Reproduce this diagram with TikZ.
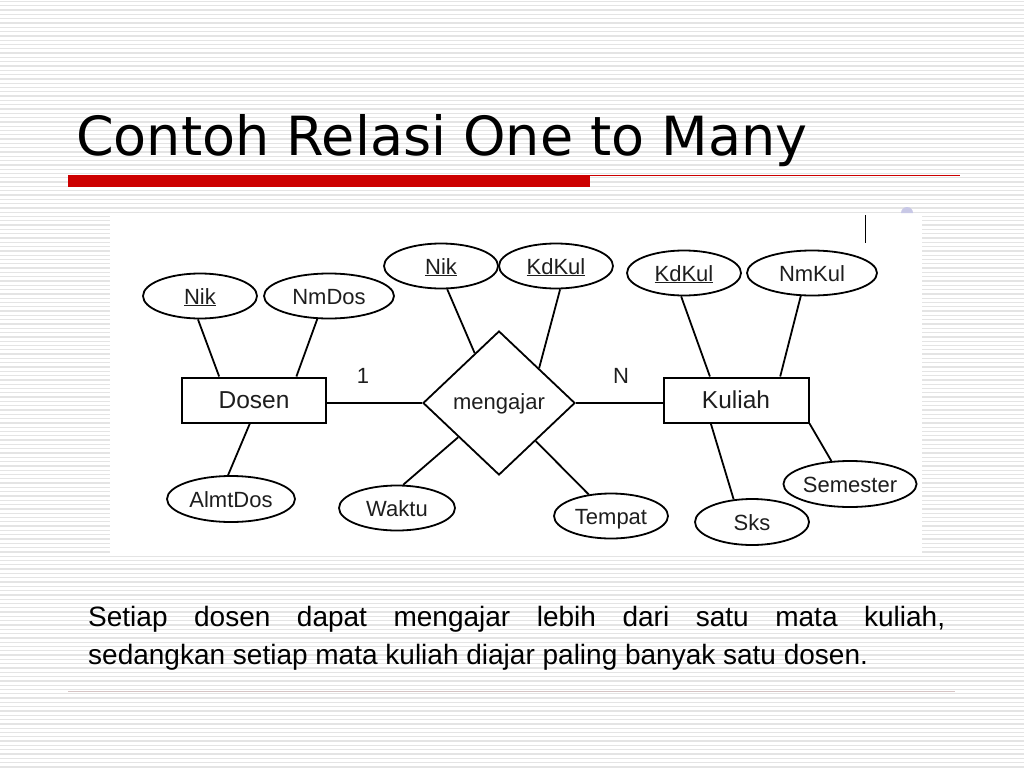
\documentclass[tikz,border=0pt]{standalone}
\usepackage{fontspec}
\setmainfont{Liberation Sans}
\newfontfamily\titlefont{DejaVu Sans}
\usetikzlibrary{shapes.geometric}
\definecolor{stripegray}{HTML}{E4E4E4}
\definecolor{slidered}{HTML}{CC0000}
\definecolor{inkgray}{HTML}{1E1E1E}
\definecolor{lavender}{HTML}{C8C8E6}
\begin{document}
\begin{tikzpicture}[x=1pt,y=-1pt,
  stripe/.style={stripegray,line width=1.3pt},
  attr/.style={ellipse,draw=black,line width=1.8pt,inner sep=0pt,text=inkgray,
    font=\fontsize{22}{24}\selectfont,text height=16pt,text depth=0pt,
    minimum width=114pt,minimum height=45pt},
  entity/.style={rectangle,draw=black,line width=2pt,inner sep=0pt,text=inkgray,
    font=\fontsize{24.5}{26}\selectfont,text height=17.5pt,text depth=0pt,
    minimum width=144pt,minimum height=45pt},
  rel/.style={diamond,draw=black,line width=1.8pt,inner sep=0pt,text=inkgray,
    font=\fontsize{22}{24}\selectfont,text height=12pt,text depth=0pt,
    minimum width=152pt,minimum height=144pt},
  conn/.style={line width=1.8pt,black},
  card/.style={inner sep=0pt,text=inkgray,font=\fontsize{22}{24}\selectfont}]
\useasboundingbox (0,0) rectangle (1024,768);
\fill[white] (0,0) rectangle (1024,768);
\foreach \y in {1.5,5.8,...,768} \draw[stripe] (0,\y) -- (1024,\y);
% title
\node[anchor=base west,inner sep=0pt] (title) at (76,155)
  {\titlefont\fontsize{54}{60}\selectfont Contoh Relasi One to Many};
\fill[slidered] (68,175) rectangle (590,187);
\draw[slidered,line width=1pt] (590,175.5) -- (960,175.5);
% panel
\fill[white] (110,213) rectangle (922,555);
\draw[black,line width=1.2pt] (865.5,215) -- (865.5,243);
\fill[lavender] (901,213) arc[start angle=180,end angle=360,radius=6] -- cycle;
% ER diagram
\node[attr,minimum width=114pt] (nik1) at (200,296) {\underline{Nik}};
\node[attr,minimum width=130pt] (nmdos) at (329,296) {NmDos};
\node[entity] (dosen) at (254,400) {Dosen};
\node[attr,minimum width=128pt,minimum height=46pt] (almtdos) at (231,499) {AlmtDos};
\node[attr] (nik2) at (441,266) {\underline{Nik}};
\node[attr] (kdkul2) at (556,266) {\underline{KdKul}};
\node[rel] (rel) at (499,403) {mengajar};
\node[attr,minimum width=116pt] (waktu) at (397,508) {Waktu};
\node[attr] (tempat) at (611,516) {Tempat};
\node[attr] (kdkul3) at (684,273) {\underline{KdKul}};
\node[attr,minimum width=130pt] (nmkul) at (812,273) {NmKul};
\node[entity,minimum width=145pt] (kuliah) at (736,400) {Kuliah};
\node[attr,minimum height=46pt] (sks) at (752,522) {Sks};
\node[attr,minimum height=46pt] (semester) at (850,484) {Semester};
\node[card] (one) at (363,376) {1};
\node[card] (many) at (621,376) {N};
\draw[conn] (nik1.-95) -- (dosen.146);
\draw[conn] (nmdos.-117) -- (dosen.29);
\draw[conn] (dosen.-100) -- (almtdos.97);
\draw[conn] (rel.west -| dosen.east) -- (rel.west);
\draw[conn] (nik2.-75) -- (rel.116);
\draw[conn] (kdkul2.-80) -- (rel.41);
\draw[conn] (waktu.75) -- (rel.-140);
\draw[conn] (tempat.136) -- (rel.-46);
\draw[conn] (rel.east) -- (rel.east -| kuliah.west);
\draw[conn] (kdkul3.-97) -- (kuliah.138);
\draw[conn] (nmkul.-116) -- (kuliah.28);
\draw[conn] (kuliah.-137) -- (sks.129);
\draw[conn] (kuliah.south east) -- (semester.129);
% caption
\node[anchor=base west,inner sep=0pt] (caption) at (88,626)
  {\parbox[t]{857pt}{\fontsize{28}{38}\selectfont Setiap dosen dapat mengajar lebih dari satu mata kuliah,\linebreak sedangkan setiap mata kuliah diajar paling banyak satu dosen.}};
\draw[line width=1pt,color={rgb,255:red,214;green,196;blue,196}] (68,691) -- (955,691);
\end{tikzpicture}
\end{document}
